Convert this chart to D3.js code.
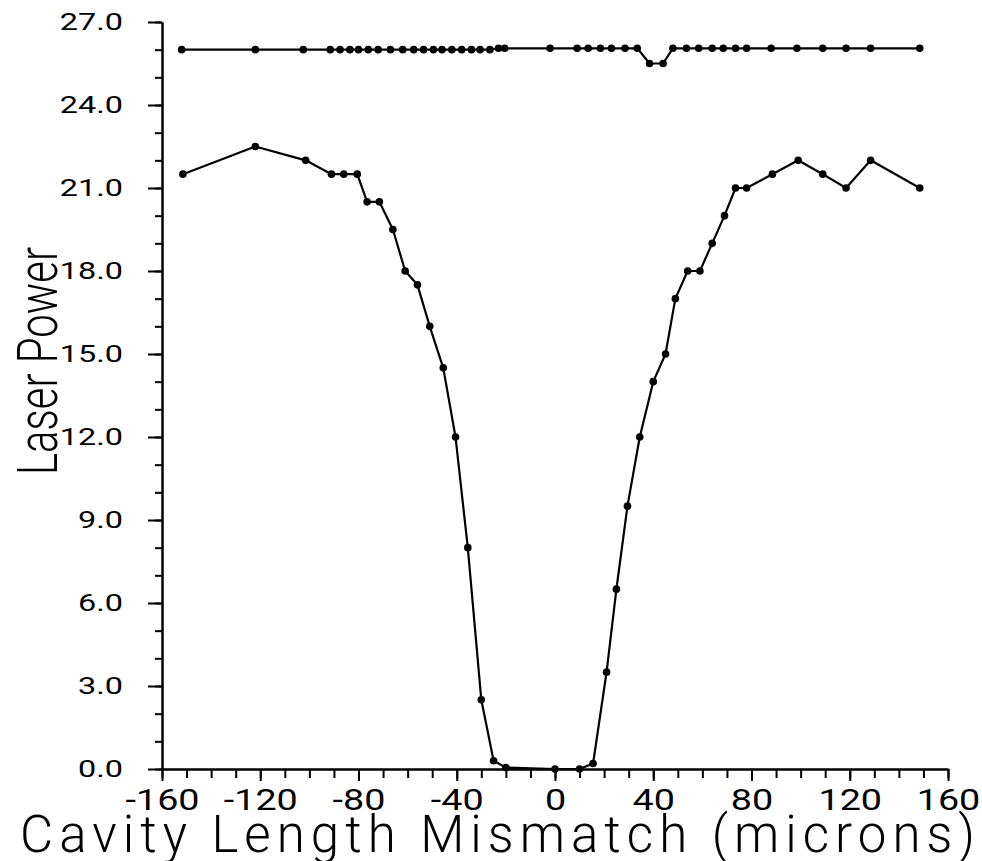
<!DOCTYPE html>
<html>
<head>
<meta charset="utf-8">
<script src="https://cdn.jsdelivr.net/npm/d3@7"></script>
<style>
  html, body { margin: 0; padding: 0; background: #fff; }
  svg { display: block; }
  text { font-family: "Roboto", "DejaVu Sans", sans-serif; fill: #000; }
</style>
</head>
<body>
<svg id="chart" width="982" height="861"></svg>
<script>
// Cavity length mismatch (microns) for the upper trace
const upperX = [-152, -122, -102.5, -91.5, -87.5, -83.5, -80, -76, -72, -67, -62, -57.5, -53.5, -49.5, -46, -42, -38, -34, -30.5, -26.5, -23, -20.5, -2, 9, 13.5, 18.5, 23, 28.5, 33.5, 38.5, 44, 48, 53.5, 58.5, 64, 68.5, 73.5, 78, 88, 98.5, 109, 118.5, 128.5, 148.5];
// Laser power for the upper trace
const upperY = [26.0, 26.0, 26.0, 26.0, 26.0, 26.0, 26.0, 26.0, 26.0, 26.0, 26.0, 26.0, 26.0, 26.0, 26.0, 26.0, 26.0, 26.0, 26.0, 26.0, 26.05, 26.05, 26.05, 26.05, 26.05, 26.05, 26.05, 26.05, 26.05, 25.5, 25.5, 26.05, 26.05, 26.05, 26.05, 26.05, 26.05, 26.05, 26.05, 26.05, 26.05, 26.05, 26.05, 26.05];

// Cavity length mismatch (microns) for the lower trace
const lowerX = [-151.5, -122, -101.5, -91, -86, -80.5, -76.5, -71.5, -66, -61, -56, -51, -45.5, -40.5, -35.5, -30, -25, -20, 0, 10, 15.5, 21, 25, 29.5, 34.5, 40, 45, 49, 54, 59, 64, 69, 73.5, 78, 88.5, 99, 109, 118.5, 128.5, 148.5];
// Laser power for the lower trace
const lowerY = [21.5, 22.5, 22.0, 21.5, 21.5, 21.5, 20.5, 20.5, 19.5, 18.0, 17.5, 16.0, 14.5, 12.0, 8.0, 2.5, 0.3, 0.05, 0.0, 0.0, 0.2, 3.5, 6.5, 9.5, 12.0, 14.0, 15.0, 17.0, 18.0, 18.0, 19.0, 20.0, 21.0, 21.0, 21.5, 22.0, 21.5, 21.0, 22.0, 21.0];

// Axis ticks
const xMajorTicks = [-160, -120, -80, -40, 0, 40, 80, 120, 160];
const xMinorTicks = d3.range(-160, 161, 10);
const yMajorTicks = [0, 3, 6, 9, 12, 15, 18, 21, 24, 27];
const yMinorTicks = d3.range(0, 28, 1);

const xTitle = "Cavity Length Mismatch (microns)";
const yTitle = "Laser Power";

const svg = d3.select("#chart");
svg.append("rect").attr("width", 982).attr("height", 861).attr("fill", "#fff");

const x = d3.scaleLinear().domain([-160, 160]).range([162, 948]);
const y = d3.scaleLinear().domain([0, 27]).range([769, 22]);

// widen glyphs of a text node by a factor, keeping its anchor
function widen(node, factor) {
  const w = node.getComputedTextLength();
  d3.select(node).attr("textLength", w * factor).attr("lengthAdjust", "spacingAndGlyphs");
}

// x axis: minor ticks, then labelled major ticks
const gxMinor = svg.append("g")
  .attr("transform", `translate(0,${y(0)})`)
  .call(d3.axisBottom(x).tickValues(xMinorTicks).tickSize(9).tickSizeOuter(0).tickFormat(""));
const gx = svg.append("g")
  .attr("transform", `translate(0,${y(0)})`)
  .call(d3.axisBottom(x).tickValues(xMajorTicks).tickSize(12).tickSizeOuter(0).tickPadding(8)
    .tickFormat(d => (d < 0 ? "-" : "") + Math.abs(d)));

// y axis: minor ticks, then labelled major ticks
const gyMinor = svg.append("g")
  .attr("transform", `translate(${x(-160)},0)`)
  .call(d3.axisLeft(y).tickValues(yMinorTicks).tickSize(7).tickSizeOuter(0).tickFormat(""));
const gy = svg.append("g")
  .attr("transform", `translate(${x(-160)},0)`)
  .call(d3.axisLeft(y).tickValues(yMajorTicks).tickSize(14).tickSizeOuter(0).tickPadding(25)
    .tickFormat(d3.format(".1f")));

[gxMinor, gx, gyMinor, gy].forEach(g => {
  g.select(".domain").attr("stroke", "#000").attr("stroke-width", 2);
  g.selectAll(".tick line").attr("stroke", "#000").attr("stroke-width", 2);
});

// wide plotter-style digits
gx.selectAll(".tick text")
  .attr("font-size", 29)
  .attr("font-family", "Roboto, 'DejaVu Sans', sans-serif")
  .attr("font-weight", 400)
  .each(function() { widen(this, 1.3); });

gy.selectAll(".tick text")
  .attr("font-size", 24)
  .attr("font-family", "Roboto, 'DejaVu Sans', sans-serif")
  .attr("font-weight", 400)
  .each(function() { widen(this, 1.35); });

// data traces
const line = d3.line().x(d => x(d[0])).y(d => y(d[1]));
const series = [d3.zip(upperX, upperY), d3.zip(lowerX, lowerY)];

series.forEach(pts => {
  svg.append("path")
    .datum(pts)
    .attr("d", line)
    .attr("fill", "none")
    .attr("stroke", "#000")
    .attr("stroke-width", 2.2)
    .attr("stroke-linejoin", "round");
  svg.append("g").selectAll("circle")
    .data(pts)
    .join("circle")
    .attr("cx", d => x(d[0]))
    .attr("cy", d => y(d[1]))
    .attr("r", 3.8)
    .attr("fill", "#000");
});

// axis titles
svg.append("text")
  .attr("x", 20)
  .attr("y", 852)
  .attr("font-size", 51)
  .attr("font-weight", 300)
  .attr("textLength", 955)
  .attr("lengthAdjust", "spacing")
  .text(xTitle);

svg.append("text")
  .attr("transform", "translate(57,361) rotate(-90)")
  .attr("text-anchor", "middle")
  .attr("font-size", 56)
  .attr("font-weight", 300)
  .attr("textLength", 228)
  .attr("lengthAdjust", "spacingAndGlyphs")
  .text(yTitle);
</script>
</body>
</html>
